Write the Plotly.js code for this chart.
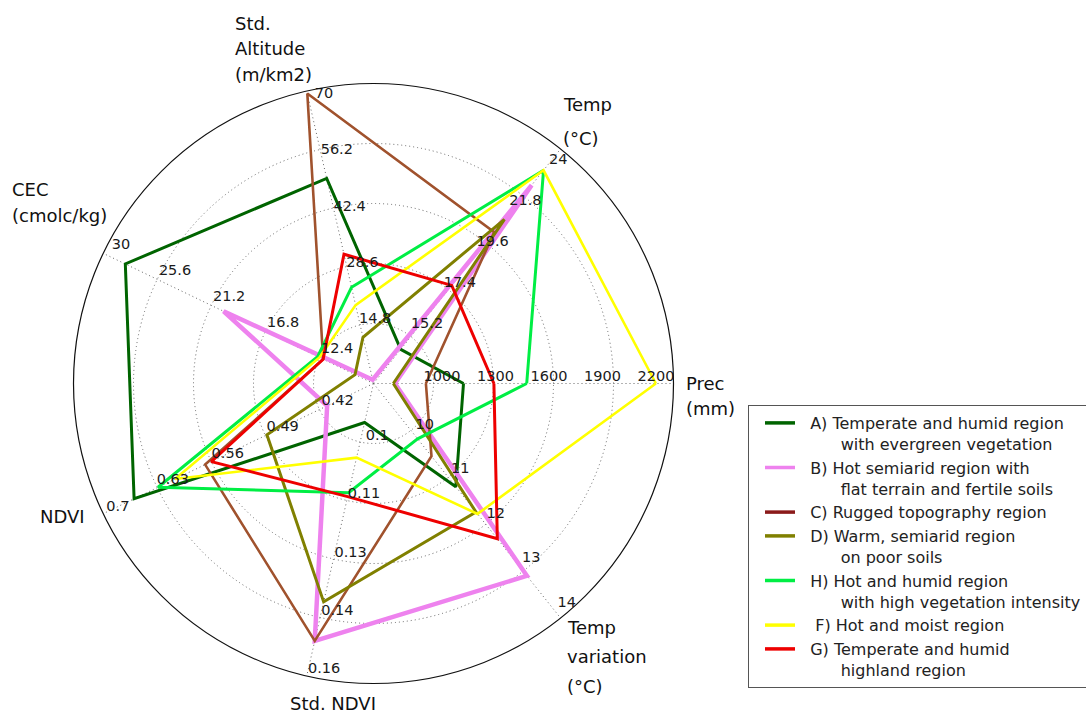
<!DOCTYPE html>
<html>
<head>
<meta charset="utf-8">
<script src="https://cdn.plot.ly/plotly-3.0.1.min.js"></script>
<style>
  html, body { margin: 0; padding: 0; background: #fff; }
  #chart { width: 1086px; height: 718px; }
</style>
</head>
<body>
<div id="chart"></div>
<script>
// Radar axes, counter-clockwise starting from the right
const axisLabels = ['Prec\n(mm)', 'Temp\n(°C)', 'Std.\nAltitude\n(m/km2)', 'CEC\n(cmolc/kg)', 'NDVI', 'Std. NDVI', 'Temp\nvariation\n(°C)'];
// value at the centre and at the outer ring of every axis
const axisMin = [700, 13, 1, 8, 0.35, 0.085, 9];
const axisMax = [2200, 24, 70, 30, 0.7, 0.16, 14];

// ring labels of every axis (rings 1..5)
const ticksPrec = ['1000', '1300', '1600', '1900', '2200'];
const ticksTemp = ['15.2', '17.4', '19.6', '21.8', '24'];
const ticksStdAlt = ['14.8', '28.6', '42.4', '56.2', '70'];
const ticksCEC = ['12.4', '16.8', '21.2', '25.6', '30'];
const ticksNDVI = ['0.42', '0.49', '0.56', '0.63', '0.7'];
const ticksStdNDVI = ['0.1', '0.11', '0.13', '0.14', '0.16'];
const ticksTempVar = ['10', '11', '12', '13', '14'];

// regions: Prec, Temp, Std. Altitude, CEC, NDVI, Std. NDVI, Temp variation
const regionA = [1150, 14.6, 49.4, 28.2, 0.66, 0.095, 11.2];
const regionB = [807, 22.3, 1.9, 20.2, 0.41, 0.151, 13.1];
const regionC = [962, 20.1, 69.4, 12.1, 0.568, 0.151, 10.55];
const regionD = [799, 20.7, 11.9, 9.5, 0.488, 0.141, 11.74];
const regionH = [1466, 23.0, 23.7, 12.55, 0.629, 0.113, 10.18];
const regionF = [2112, 23.0, 19.5, 12.4, 0.607, 0.104, 11.78];
const regionG = [1302, 17.6, 31.5, 12.1, 0.56, 0.114, 12.31];

const regionNames = [
  'A) Temperate and humid region\nwith evergreen vegetation',
  'B) Hot semiarid region with\nflat terrain and fertile soils',
  'C) Rugged topography region',
  'D) Warm, semiarid region\non poor soils',
  'H) Hot and humid region\nwith high vegetation intensity',
  ' F) Hot and moist region',
  'G) Temperate and humid\nhighland region'
];

// ---------------------------------------------------------------------------
const W = 1086, H = 718;
const nAxes = axisLabels.length;
const RINGS = 5;
const axisAngle = axisLabels.map((_, i) => i * 360 / nAxes);

const series = [regionA, regionB, regionC, regionD, regionH, regionF, regionG];
const lineColors = ['#006400', '#ee82ee', '#a0522d', '#808000', '#00ee44', '#ffff00', '#ee0000'];
const keyColors  = ['#006400', '#ee82ee', '#8b1a1a', '#808000', '#00ee44', '#ffff00', '#ee0000'];
const lineWidths = [3, 4.5, 2.6, 3, 3, 2.6, 3];

// each axis has its own scale; map it onto the common ring scale 0..5
function toRing(v, i) {
  return (v - axisMin[i]) / (axisMax[i] - axisMin[i]) * RINGS;
}

const traces = [];

series.forEach((vals, s) => {
  const r = vals.map(toRing);
  const theta = axisAngle.slice();
  r.push(r[0]);
  theta.push(theta[0]);
  traces.push({
    type: 'scatterpolar', mode: 'lines', r: r, theta: theta,
    line: { color: lineColors[s], width: lineWidths[s] },
    showlegend: false, hoverinfo: 'skip'
  });
});

// ring labels, placed beside each ring along the axis
// [offset along axis, spacing per ring, sideways offset] in px, 60 px per ring
const RING_PX = 60;
const tickSets = [ticksPrec, ticksTemp, ticksStdAlt, ticksCEC, ticksNDVI, ticksStdNDVI, ticksTempVar];
const tickPlacement = [
  [15, 53.5, 6.5], [27, 52.6, -5], [5, 57.5, -16], [-12.5, 60, -15],
  [-21, 61, 0.5], [-9, 59.8, 15.5], [7.8, 56.9, 14]
];
const tickR = [], tickTheta = [], tickText = [];
tickSets.forEach((labels, i) => {
  const [a, b, v] = tickPlacement[i];
  labels.forEach((lab, k) => {
    const u = a + b * (k + 1);
    tickR.push(Math.hypot(u, v) / RING_PX);
    tickTheta.push(axisAngle[i] + Math.atan2(v, u) * 180 / Math.PI);
    tickText.push(lab);
  });
});
traces.push({
  type: 'scatterpolar', mode: 'text', r: tickR, theta: tickTheta, text: tickText,
  textposition: 'middle center', cliponaxis: false,
  textfont: { family: 'DejaVu Sans', size: 14.5, color: '#1a1a1a' },
  showlegend: false, hoverinfo: 'skip'
});

// legend entries (key colours), second lines indented
const NB = '\u00a0';
regionNames.forEach((name, s) => {
  const parts = name.split('\n');
  const label = parts.map((p, j) => (j === 0 ? NB + NB + p.replace(/^ /, NB) : NB.repeat(8) + p)).join('<br>');
  traces.push({
    type: 'scatterpolar', mode: 'lines', r: [null], theta: [null],
    name: label, line: { color: keyColors[s], width: 3.5 },
    hoverinfo: 'skip'
  });
});

// axis titles outside the outer circle: [left x, first line y, line gap] in px
const titlePlacement = [
  [684, 383, 25], [561, 104, 34], [233, 23.5, 25.5], [10, 189, 26.5],
  [38, 516, 0], [288, 703, 0], [565, 627, 29.5]
];
const annotations = [];
axisLabels.forEach((label, i) => {
  const [x0, y0, gap] = titlePlacement[i];
  label.split('\n').forEach((line, j) => {
    annotations.push({
      xref: 'paper', yref: 'paper', x: x0 / W, y: 1 - (y0 + j * gap) / H,
      xanchor: 'left', yanchor: 'middle', align: 'left', showarrow: false,
      text: line, font: { family: 'DejaVu Sans', size: 18, color: '#111' }
    });
  });
});

const layout = {
  width: W, height: H,
  margin: { l: 0, r: 0, t: 0, b: 0, autoexpand: false },
  paper_bgcolor: '#fff',
  font: { family: 'DejaVu Sans', color: '#111' },
  showlegend: true,
  legend: {
    x: 748 / W, y: 1 - 405 / H, xanchor: 'left', yanchor: 'top',
    bgcolor: '#fff', bordercolor: '#555', borderwidth: 1,
    font: { family: 'DejaVu Sans', size: 16, color: '#222' },
    valign: 'top', indentation: 11, itemwidth: 30, tracegroupgap: 0
  },
  annotations: annotations,
  polar: {
    domain: { x: [73.5 / W, 673.5 / W], y: [34.5 / H, 634.5 / H] },
    bgcolor: '#fff',
    radialaxis: {
      range: [0, RINGS], tickvals: [1, 2, 3, 4, 5], showticklabels: false,
      ticks: '', showline: false, gridcolor: '#666', gridwidth: 1, griddash: '1px,3px'
    },
    angularaxis: {
      thetaunit: 'degrees', rotation: 0, direction: 'counterclockwise',
      tickvals: axisAngle, showticklabels: false, ticks: '',
      showline: true, linecolor: '#111', linewidth: 1.2,
      gridcolor: '#666', gridwidth: 1, griddash: '1px,3px'
    }
  }
};

Plotly.newPlot('chart', traces, layout, { displayModeBar: false, staticPlot: true });
</script>
</body>
</html>
